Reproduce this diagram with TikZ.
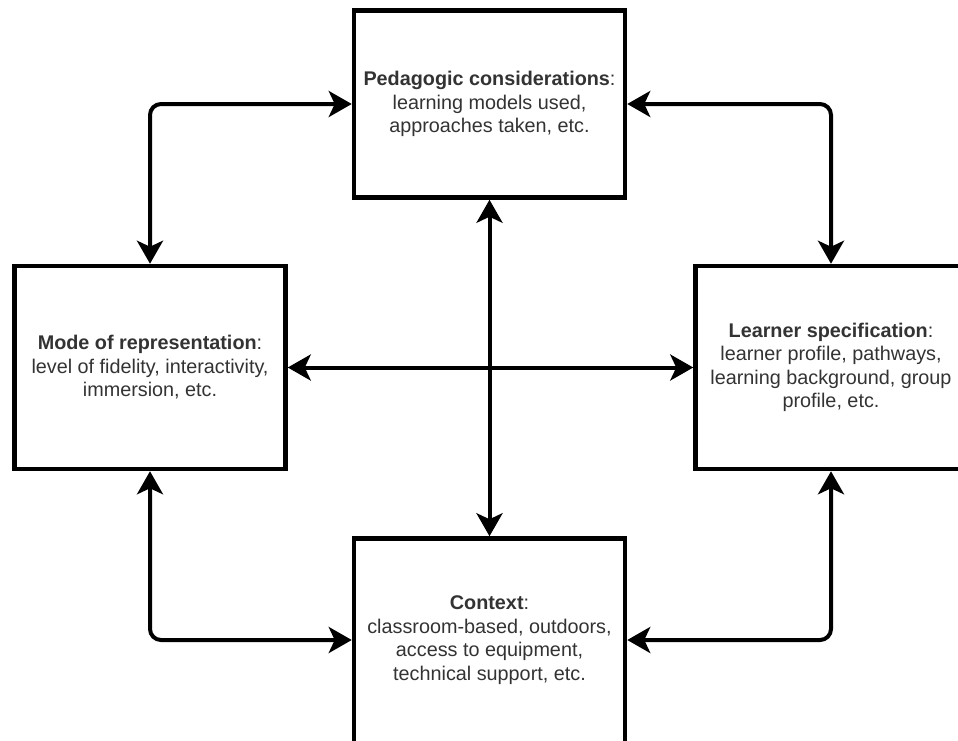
\documentclass[tikz,border=0pt]{standalone}
\usepackage{fontspec}
\setmainfont{Liberation Sans}
\usetikzlibrary{arrows.meta}
\definecolor{txt}{HTML}{333333}
\tikzset{
  block/.style={draw=black, line width=4.5pt, fill=white, rectangle,
    minimum width=271pt, align=center, text=txt, inner sep=0pt,
    font=\fontsize{19.8}{23.5}\selectfont},
  conn/.style={line width=4pt, draw=black, rounded corners=11pt,
    {Stealth[length=23pt,width=26pt,inset=6pt]}-{Stealth[length=23pt,width=26pt,inset=6pt]}}
}
\begin{document}
\begin{tikzpicture}[x=1pt, y=-1pt]
  \clip (0,0) rectangle (958,740);
  \fill[white] (0,0) rectangle (958,740);

  \node[block, minimum height=187pt] (ped) at (489.5,104)
    {\textbf{Pedagogic considerations}:\\learning models used,\\approaches taken, etc.};
  \node[block, minimum height=203pt] (mode) at (150,367.5)
    {\textbf{Mode of representation}:\\level of fidelity, interactivity,\\immersion, etc.};
  \node[block, minimum height=203pt] (learn) at (831,367.5)
    {\textbf{Learner specification}:\\learner profile, pathways,\\learning background, group\\profile, etc.};
  \node[block, minimum height=208pt, text depth=0pt] (ctx) at (489.5,642.5) {};
  \node[align=center, text=txt, inner sep=0pt,
    font=\fontsize{19.8}{23.5}\selectfont] (ctxtext) at (489.5,640)
    {\textbf{Context}:\\classroom-based, outdoors,\\access to equipment,\\technical support, etc.};

  \draw[conn] (mode.north) |- (ped.west);
  \draw[conn] (ped.east) -| (learn.north);
  \draw[conn] (mode.south) |- (ctxtext.west -| ctx.west);
  \draw[conn] (ctxtext.east -| ctx.east) -| (learn.south);
  \draw[conn] (ped.south) -- (ctx.north);
  \draw[conn] (mode.east) -- (learn.west);
\end{tikzpicture}
\end{document}
